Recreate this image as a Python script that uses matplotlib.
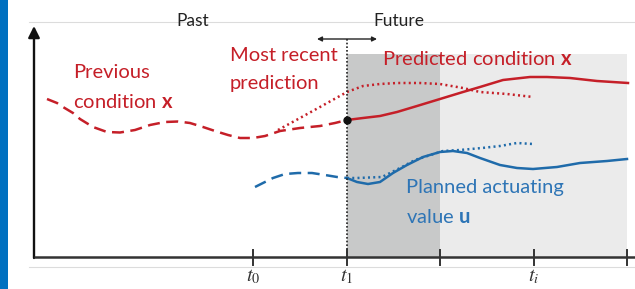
import matplotlib
matplotlib.use("Agg")
import matplotlib.pyplot as plt
from matplotlib.patches import Rectangle

plt.rcParams['mathtext.fontset'] = 'custom'
plt.rcParams['mathtext.rm'] = 'Lato'
plt.rcParams['mathtext.bf'] = 'Lato:bold'
plt.rcParams['mathtext.it'] = 'Lato:italic'

# ---- data (time along axis, height above axis) ----
prev_t = [13, 23, 29, 39, 46, 59, 73, 86, 101, 116, 131, 144, 156, 169, 181, 194, 206, 219, 231, 246, 266, 286, 301, 313]
prev_x = [158, 154, 150, 144, 138, 130, 125, 124.5, 127, 132, 135, 135.5, 134, 130, 126, 122, 119, 119, 121, 126, 129, 131, 134, 137]

pred_t = [313, 329, 346, 363, 383, 406, 429, 446, 469, 496, 513, 536, 563, 594]
pred_x = [137, 139, 141, 145, 151, 158, 165, 170, 177, 180, 180, 179, 176, 174]

recent_t = [244, 266, 286, 313, 329, 346, 363, 386, 406, 429, 446, 473, 499]
recent_x = [127, 139, 150, 165, 171, 173, 174, 174, 173, 169, 165, 163, 160]

uprev_t = [221, 229, 239, 251, 264, 278, 291, 303, 313]
uprev_u = [70, 74, 79, 83, 84, 84, 82, 80, 79]

uplan_t = [313, 323, 334, 346, 359, 373, 389, 406, 419, 433, 446, 466, 483, 499, 523, 546, 573, 593]
uplan_u = [79, 75, 73, 75, 84, 92, 100, 105, 106, 104, 99, 92, 89, 88, 90, 94, 96, 98]

urecent_t = [313, 323, 348, 368, 381, 409, 426, 448, 466, 483, 499]
urecent_u = [79, 79, 80, 90, 97, 106, 107, 109, 111, 114, 113]

tick_pos = [219, 313, 406, 500, 593]
tick_labels = ['$t_0$', '$t_1$', '', '$t_i$', '']

RED = '#C51F28'
BLUE = '#1F6BAA'
BLUE_TXT = '#2E75B6'
AX = '#333333'

fig = plt.figure(figsize=(6.35, 2.89), dpi=100)
ax = fig.add_axes([0, 0, 1, 1])
ax.set_xlim(-34, 601)
ax.set_ylim(-32, 257)
ax.axis('off')

# left blue strip
ax.add_patch(Rectangle((-34, -32), 8, 289, color='#0070C0', lw=0, zorder=0))

# light frame lines
ax.plot([-5, 601], [235, 235], color='#dcdcdc', lw=0.8, zorder=0)
ax.plot([-5, 601], [-10, -10], color='#dcdcdc', lw=0.8, zorder=0)

# shaded horizons
ax.add_patch(Rectangle((tick_pos[1], 0), tick_pos[2] - tick_pos[1], 203, color='#C8C9C9', lw=0, zorder=1))
ax.add_patch(Rectangle((tick_pos[2], 0), tick_pos[4] - tick_pos[2], 203, color='#EBEBEB', lw=0, zorder=1))

# curves
ax.plot(prev_t, prev_x, color=RED, lw=1.8, dashes=(4.8, 2.6), zorder=3)
ax.plot(pred_t, pred_x, color=RED, lw=1.8, zorder=3)
ax.plot(recent_t, recent_x, color=RED, lw=1.8, dashes=(0.8, 1.3), zorder=3)
ax.plot(uprev_t, uprev_u, color=BLUE, lw=1.8, dashes=(4.8, 2.6), zorder=3)
ax.plot(uplan_t, uplan_u, color=BLUE, lw=1.8, zorder=3)
ax.plot(urecent_t, urecent_u, color=BLUE, lw=1.8, dashes=(0.8, 1.3), zorder=3)

# current time marker
ax.plot([tick_pos[1], tick_pos[1]], [0, 220], color='#222222', lw=1.2, dashes=(1, 1.2), zorder=4)
ax.plot([pred_t[0]], [pred_x[0]], 'o', color='#111111', ms=5, zorder=5)
ax.annotate('', xy=(283, 218), xytext=(343, 218),
            arrowprops=dict(arrowstyle='<|-|>', color='#222222', lw=1.0,
                            mutation_scale=7, shrinkA=0, shrinkB=0), zorder=5)

# axes
ax.annotate('', xy=(0, 231), xytext=(0, -1),
            arrowprops=dict(arrowstyle='-|>', color='#111111', lw=1.7,
                            mutation_scale=17, shrinkA=0, shrinkB=0), zorder=6)
ax.plot([0, 601], [0, 0], color=AX, lw=1.8, zorder=6, solid_capstyle='butt')
for p, lab in zip(tick_pos, tick_labels):
    ax.plot([p, p], [-8, 7], color=AX, lw=1.4, zorder=6)
    if lab:
        ax.text(p, -9.5, lab, ha='center', va='top', fontsize=14.5, color='#333333',
                math_fontfamily='stix', zorder=7)

# texts
ax.text(159, 236, 'Past', ha='center', va='center', fontsize=12.5, color='#222222', family='Lato')
ax.text(365, 236, 'Future', ha='center', va='center', fontsize=12.5, color='#222222', family='Lato')

kw = dict(fontsize=14.5, family='Lato', math_fontfamily='custom', zorder=7)
ax.text(39, 179, 'Previous', color=RED, ha='left', va='baseline', **kw)
ax.text(39, 149, r'condition $\mathbf{x}$', color=RED, ha='left', va='baseline', **kw)
ax.text(196, 196, 'Most recent', color=RED, ha='left', va='baseline', **kw)
ax.text(196, 168, 'prediction', color=RED, ha='left', va='baseline', **kw)
ax.text(348, 192, r'Predicted condition $\mathbf{x}$', color=RED, ha='left', va='baseline', **kw)
ax.text(372, 64, 'Planned actuating', color=BLUE_TXT, ha='left', va='baseline', **kw)
ax.text(372, 34, r'value $\mathbf{u}$', color=BLUE_TXT, ha='left', va='baseline', **kw)

fig.savefig('out.png', dpi=100)
